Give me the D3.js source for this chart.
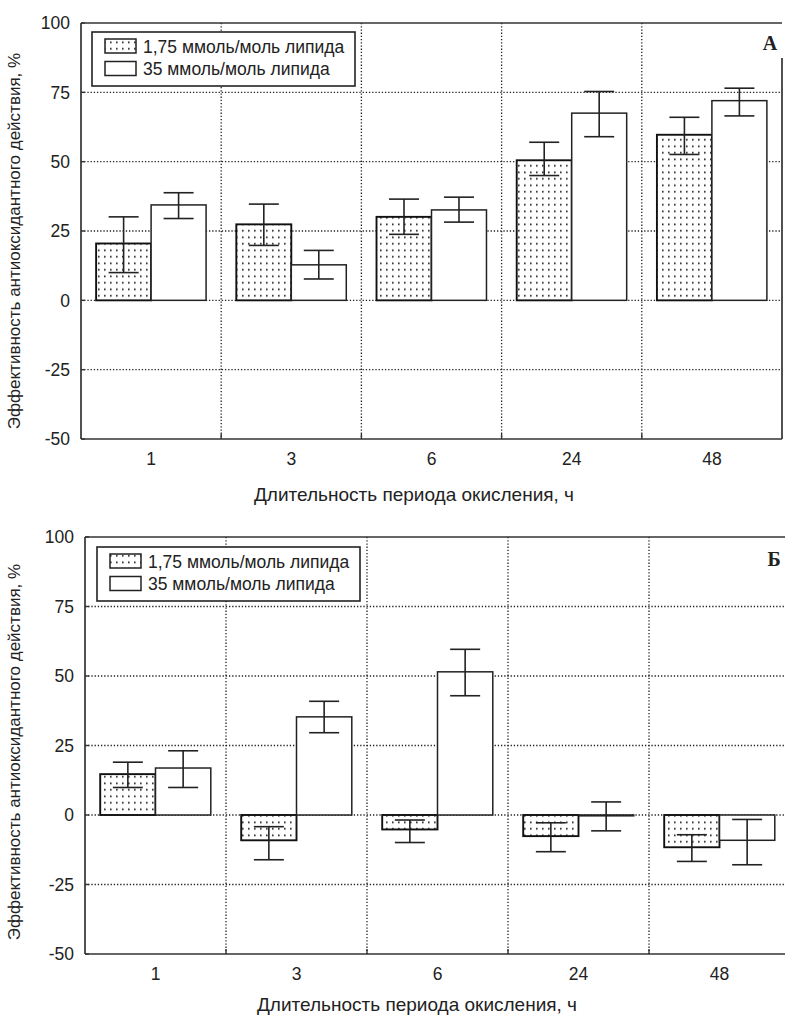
<!DOCTYPE html>
<html><head><meta charset="utf-8">
<script src="https://cdn.jsdelivr.net/npm/d3@7"></script>
<style>
body{margin:0;background:#fff;}
svg text{font-family:"Liberation Sans",Arial,sans-serif;fill:#222;}
</style></head>
<body>
<svg id="c" width="785" height="1017"></svg>
<script>
// ---------- data ----------
const categories = ["1", "3", "6", "24", "48"];
const seriesNames = ["1,75 ммоль/моль липида", "35 ммоль/моль липида"];
const yTicks = [-50, -25, 0, 25, 50, 75, 100];
const gridY = [-25, 0, 25, 50, 75];

// Panel A
const aLow = [20.5, 27.4, 30.1, 50.5, 59.7];
const aLowHi = [30.1, 34.7, 36.5, 57.0, 66.0];
const aLowLo = [10.0, 19.8, 23.8, 45.0, 52.6];
const aHigh = [34.4, 12.8, 32.6, 67.5, 72.0];
const aHighHi = [38.8, 18.0, 37.2, 75.3, 76.5];
const aHighLo = [29.5, 7.7, 28.2, 59.0, 66.5];

// Panel Б
const bLow = [14.7, -9.1, -5.2, -7.6, -11.6];
const bLowHi = [19.0, -4.2, -1.8, -2.8, -7.1];
const bLowLo = [9.9, -16.1, -9.9, -13.2, -16.7];
const bHigh = [16.9, 35.3, 51.5, -0.3, -9.1];
const bHighHi = [23.1, 40.9, 59.6, 4.7, -1.6];
const bHighLo = [9.9, 29.6, 42.9, -5.7, -17.9];

const svg = d3.select("#c");
const defs = svg.append("defs");
const pat = defs.append("pattern").attr("id", "dots")
  .attr("patternUnits", "userSpaceOnUse").attr("width", 6).attr("height", 6.5);
pat.append("rect").attr("width", 6).attr("height", 6.5).attr("fill", "#fff");
pat.append("rect").attr("x", 2).attr("y", 2.5).attr("width", 1.6).attr("height", 1.6).attr("fill", "#111");

function panel(cfg) {
  const x = d3.scaleBand().domain(categories).range([cfg.x0, cfg.x1]);
  const y = d3.scaleLinear().domain([-50, 100]).range([cfg.yb, cfg.yt]);
  const sub = d3.scaleBand().domain([0, 1]).range([0, x.bandwidth()]).paddingOuter(0.275).paddingInner(0);
  const g = svg.append("g");

  // grid
  g.selectAll(".gy").data(gridY).join("line")
    .attr("x1", cfg.x0).attr("x2", cfg.x1).attr("y1", d => y(d)).attr("y2", d => y(d))
    .attr("stroke", "#222").attr("stroke-width", 1.3).attr("stroke-dasharray", "1.3,1.9");
  const bounds = categories.slice(1).map(c => x(c));
  g.selectAll(".gx").data(bounds).join("line")
    .attr("x1", d => d).attr("x2", d => d).attr("y1", cfg.yt).attr("y2", cfg.yb)
    .attr("stroke", "#222").attr("stroke-width", 1.3).attr("stroke-dasharray", "1.3,1.9");

  const series = [
    {v: cfg.low, hi: cfg.lowHi, lo: cfg.lowLo, fill: "url(#dots)", sw: 1.9, stroke: "#111"},
    {v: cfg.high, hi: cfg.highHi, lo: cfg.highLo, fill: "#fff", sw: 1.5, stroke: "#222"}
  ];
  series.forEach((s, si) => {
    g.selectAll(null).data(categories).join("rect")
      .attr("x", c => x(c) + sub(si))
      .attr("width", sub.bandwidth())
      .attr("y", (c, i) => y(Math.max(0, s.v[i])))
      .attr("height", (c, i) => Math.abs(y(s.v[i]) - y(0)))
      .attr("fill", s.fill).attr("stroke", s.stroke).attr("stroke-width", s.sw);
  });
  series.forEach((s, si) => {
    const cx = c => x(c) + sub(si) + sub.bandwidth() / 2;
    g.selectAll(null).data(categories).join("line")
      .attr("x1", cx).attr("x2", cx)
      .attr("y1", (c, i) => y(s.hi[i])).attr("y2", (c, i) => y(s.lo[i]))
      .attr("stroke", "#222").attr("stroke-width", 1.6);
    [s.hi, s.lo].forEach(arr => {
      g.selectAll(null).data(categories).join("line")
        .attr("x1", c => cx(c) - 15).attr("x2", c => cx(c) + 15)
        .attr("y1", (c, i) => y(arr[i])).attr("y2", (c, i) => y(arr[i]))
        .attr("stroke", "#222").attr("stroke-width", 1.6);
    });
  });

  // frame
  const ax = "#333";
  g.append("line").attr("x1", cfg.x0).attr("x2", cfg.x0).attr("y1", cfg.yt).attr("y2", cfg.yb).attr("stroke", ax).attr("stroke-width", 1.7);
  g.append("line").attr("x1", cfg.x0).attr("x2", cfg.x1).attr("y1", cfg.yb).attr("y2", cfg.yb).attr("stroke", ax).attr("stroke-width", 1.7);
  g.append("line").attr("x1", cfg.x0).attr("x2", cfg.x1).attr("y1", cfg.yt).attr("y2", cfg.yt).attr("stroke", ax).attr("stroke-width", 1.7);
  g.append("line").attr("x1", cfg.x1).attr("x2", cfg.x1).attr("y1", cfg.rightTop).attr("y2", cfg.yb).attr("stroke", ax).attr("stroke-width", 1.7);

  // y axis ticks & labels
  g.selectAll(null).data(yTicks).join("line")
    .attr("x1", cfg.x0).attr("x2", cfg.x0 + 4).attr("y1", d => y(d)).attr("y2", d => y(d))
    .attr("stroke", ax).attr("stroke-width", 1.4);
  g.selectAll(null).data(yTicks).join("text")
    .attr("x", cfg.x0 - 11).attr("y", d => y(d)).attr("dy", "0.36em")
    .attr("text-anchor", "end").attr("font-size", 17.5).text(d => d);
  // x ticks at boundaries
  g.selectAll(null).data(bounds).join("line")
    .attr("x1", d => d).attr("x2", d => d).attr("y1", cfg.yb).attr("y2", cfg.yb - 5)
    .attr("stroke", ax).attr("stroke-width", 1.4);
  g.selectAll(null).data(categories).join("text")
    .attr("x", c => x(c) + x.bandwidth() / 2).attr("y", cfg.yb + 26)
    .attr("text-anchor", "middle").attr("font-size", 17.5).text(c => c);

  // titles
  g.append("text").attr("x", cfg.xtX).attr("y", cfg.yb + cfg.xtDy)
    .attr("text-anchor", "middle").attr("font-size", 19).text("Длительность периода окисления, ч");
  g.append("text").attr("transform", `translate(${cfg.ytX},${cfg.ytY}) rotate(-90)`)
    .attr("text-anchor", "middle").attr("font-size", 17).text("Эффективность антиоксидантного действия, %");

  // legend
  const L = cfg.legend;
  g.append("rect").attr("x", L.x).attr("y", L.y).attr("width", 263).attr("height", 54)
    .attr("fill", "#fff").attr("stroke", "#222").attr("stroke-width", 1.6);
  seriesNames.forEach((n, i) => {
    g.append("rect").attr("x", L.x + 13).attr("y", L.y + 7 + i * 22.5).attr("width", 31).attr("height", 14)
      .attr("fill", i === 0 ? "url(#dots)" : "#fff").attr("stroke", "#222").attr("stroke-width", 1.5);
    g.append("text").attr("x", L.x + 51).attr("y", L.y + 20.5 + i * 22.5)
      .attr("font-size", 17.5).text(n);
  });

  // panel letter
  g.append("text").attr("x", cfg.letterX).attr("y", cfg.letterY).attr("text-anchor", "middle")
    .style("font-family", "'Liberation Serif','DejaVu Serif',serif").attr("font-weight", "bold")
    .attr("font-size", 20).text(cfg.letter);
}

panel({x0: 81, x1: 782, yt: 23, yb: 439, rightTop: 58,
  low: aLow, lowHi: aLowHi, lowLo: aLowLo, high: aHigh, highHi: aHighHi, highLo: aHighLo,
  legend: {x: 92, y: 32}, letter: "А", letterX: 770, letterY: 50,
  xtX: 414, xtDy: 62, ytX: 20, ytY: 241});
panel({x0: 85, x1: 790, yt: 537, yb: 954, rightTop: 537,
  low: bLow, lowHi: bLowHi, lowLo: bLowLo, high: bHigh, highHi: bHighHi, highLo: bHighLo,
  legend: {x: 97, y: 547}, letter: "Б", letterX: 774, letterY: 566,
  xtX: 417, xtDy: 57, ytX: 20, ytY: 752});
</script>
</body></html>
